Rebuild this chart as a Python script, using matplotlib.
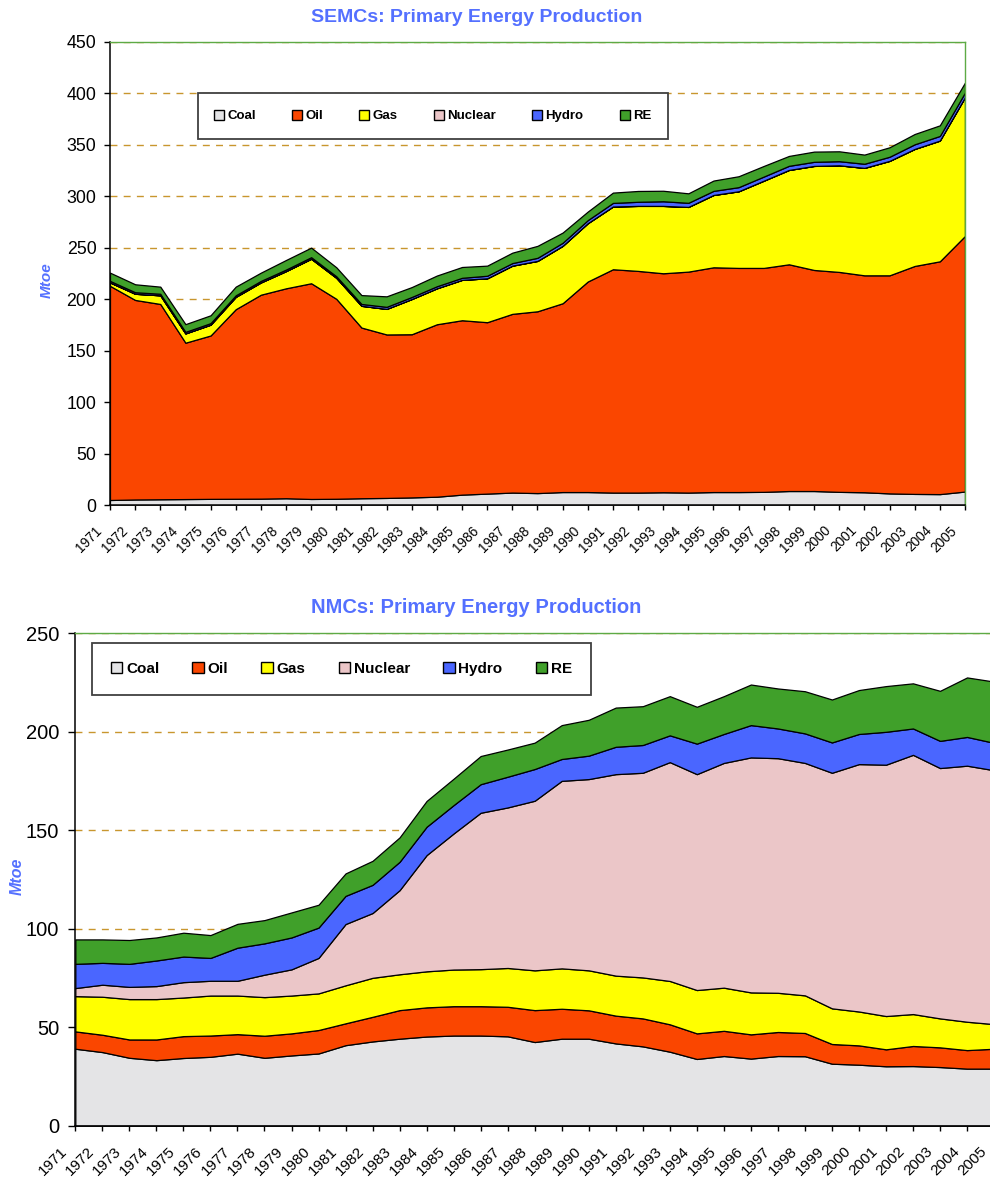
import matplotlib
matplotlib.use("Agg")
import matplotlib.pyplot as plt
import matplotlib.transforms as mtransforms
from matplotlib.patches import Patch
import numpy as np

plt.rcParams['font.family'] = ['Liberation Sans', 'DejaVu Sans']

years = list(range(1971, 2006))
layer_names = ['Coal', 'Oil', 'Gas', 'Nuclear', 'Hydro', 'RE']
layer_colors = ['#E4E4E6', '#FA4600', '#FFFF00', '#EBC6C8', '#4A66FF', '#40A02A']

# SEMCs (Mtoe)
semc_coal = [5.3, 5.8, 6.0, 6.2, 6.4, 6.5, 6.6, 7.0, 6.3, 6.5, 7.0, 7.3, 7.8, 8.5, 10.5, 11.5, 12.5, 12.0,
             13.0, 13.0, 12.5, 12.5, 12.8, 12.5, 13.0, 13.0, 13.2, 14.0, 14.0, 13.2, 12.8, 11.7, 11.2, 11.0, 13.5]
semc_oil = [207.9, 193.7, 189.6, 151.8, 158.6, 184.0, 198.0, 203.8, 209.4, 194.1, 165.7, 158.7, 158.4, 167.4,
            169.3, 166.4, 173.5, 176.5, 183.3, 204.4, 216.8, 215.2, 212.6, 214.5, 218.2, 217.6, 217.4, 220.1,
            214.6, 213.5, 210.6, 211.7, 221.3, 226.0, 248.1]
semc_gas = [3.3, 6.0, 8.4, 9.0, 10.5, 12.0, 11.9, 16.7, 23.8, 20.4, 21.1, 24.8, 34.2, 34.9, 39.2, 42.6, 46.8,
            48.9, 55.7, 56.6, 60.9, 63.1, 65.4, 62.8, 70.2, 74.4, 84.7, 91.6, 101.0, 103.5, 104.3, 111.1, 113.6,
            117.2, 134.7]
semc_nuclear = [0.0] * 35
semc_hydro = [1.5, 1.5, 1.5, 1.5, 1.5, 1.5, 1.5, 1.5, 1.5, 1.5, 1.8, 2.0, 2.0, 2.0, 2.0, 2.5, 2.5, 3.0, 3.0,
              3.0, 3.5, 4.0, 4.5, 4.0, 4.0, 4.0, 4.0, 4.0, 4.0, 4.0, 4.0, 4.0, 4.5, 4.5, 4.5]
semc_re = [8.0, 7.7, 6.9, 7.5, 7.6, 8.4, 8.0, 9.3, 9.3, 8.7, 8.6, 10.2, 9.6, 10.4, 10.5, 9.8, 10.1, 11.6, 9.9,
           8.3, 10.0, 10.5, 10.2, 9.2, 10.0, 10.6, 10.3, 9.6, 9.9, 9.6, 8.9, 9.2, 10.0, 10.3, 9.7]

# NMCs (Mtoe)
nmc_coal = [39.1, 37.4, 34.5, 33.3, 34.4, 35.0, 36.6, 34.5, 35.7, 36.7, 40.9, 42.8, 44.2, 45.3, 45.8, 45.8,
            45.4, 42.5, 44.2, 44.2, 41.8, 40.3, 37.6, 33.9, 35.4, 34.1, 35.4, 35.3, 31.5, 31.0, 30.2, 30.3,
            29.8, 29.0, 29.0]
nmc_oil = [8.8, 8.8, 9.3, 10.5, 11.1, 10.8, 9.9, 11.2, 11.2, 11.9, 11.1, 12.5, 14.5, 14.8, 14.9, 14.9, 15.0,
           16.2, 15.2, 14.4, 14.1, 14.2, 13.9, 13.0, 12.8, 12.3, 12.2, 11.8, 10.0, 9.8, 8.6, 10.2, 10.0, 9.4, 10.1]
nmc_gas = [17.9, 19.3, 20.5, 20.5, 19.6, 20.3, 19.6, 19.6, 19.2, 18.6, 19.3, 19.8, 18.2, 18.3, 18.6, 18.8,
           19.7, 20.2, 20.5, 20.3, 20.3, 20.8, 22.0, 22.0, 21.9, 21.3, 19.9, 19.1, 18.1, 17.2, 16.9, 16.2,
           14.7, 14.4, 12.5]
nmc_nuclear = [4.1, 6.1, 6.2, 6.6, 7.8, 7.5, 7.5, 11.4, 13.3, 18.0, 31.1, 32.9, 42.7, 59.0, 69.1, 79.4, 81.5,
               86.1, 95.2, 97.1, 102.3, 103.9, 111.1, 109.6, 114.1, 119.3, 119.1, 118.0, 119.6, 125.6, 127.6,
               131.6, 127.1, 130.0, 128.9]
nmc_hydro = [12.3, 11.1, 11.7, 13.0, 13.0, 11.6, 16.8, 15.9, 16.2, 15.4, 14.3, 14.3, 14.4, 14.4, 14.4, 14.5,
             15.6, 16.1, 11.1, 11.9, 13.9, 14.1, 13.6, 15.5, 14.7, 16.4, 15.1, 15.0, 15.4, 15.3, 16.7, 13.4,
             13.8, 14.6, 13.9]
nmc_re = [12.4, 11.9, 12.1, 11.7, 12.1, 11.6, 12.1, 11.8, 12.7, 11.6, 11.4, 12.2, 12.4, 13.1, 13.4, 14.3, 13.8,
          13.4, 17.2, 18.2, 19.9, 19.7, 19.9, 18.7, 19.2, 20.6, 20.3, 21.4, 21.8, 22.3, 23.2, 22.9, 25.4, 30.2,
          31.1]

TITLE_BLUE = '#5470FF'
GRID_COL = '#C8962E'
FRAME_GREEN = '#5DAA45'


def draw_panel(fig, ax, series, ymax, ytick_fs, ytick_len, ytick_pad, xtick_fs, xdrop_px, xshift_px,
               legend_fs, legend_box):
    ax.stackplot(years, *series, colors=layer_colors, edgecolor='black', linewidth=0.9, zorder=2)
    ax.set_xlim(years[0], years[-1])
    ax.set_ylim(0, ymax)
    ax.set_yticks(np.arange(0, ymax + 1, 50))
    ax.set_xticks(years)
    ax.set_xticklabels([])
    shift = mtransforms.ScaledTranslation(xshift_px / fig.dpi, -xdrop_px / fig.dpi, fig.dpi_scale_trans)
    trans = ax.get_xaxis_transform() + shift
    for y in years:
        ax.text(y, 0, str(y), transform=trans, rotation=45, ha='right', va='top',
                rotation_mode='anchor', fontsize=xtick_fs, clip_on=False)
    ax.tick_params(axis='y', labelsize=ytick_fs, direction='out', length=ytick_len, width=1, pad=ytick_pad)
    ax.tick_params(axis='x', direction='out', length=3.5, width=1)
    ax.set_axisbelow(True)
    ax.yaxis.grid(True, color=GRID_COL, linestyle=(0, (5, 4.5)), linewidth=1.0)
    ax.xaxis.grid(False)
    for s in ('left', 'bottom'):
        ax.spines[s].set_color('black')
        ax.spines[s].set_linewidth(1.1)
    for s in ('top', 'right'):
        ax.spines[s].set_color(FRAME_GREEN)
        ax.spines[s].set_linewidth(1.0)
    handles = [Patch(facecolor=c, edgecolor='black', linewidth=1.0) for c in layer_colors]
    leg = ax.legend(handles, layer_names, ncol=6, loc='upper left', bbox_to_anchor=legend_box,
                    mode='expand', frameon=True, fancybox=False, borderpad=1.25,
                    handlelength=0.75, handleheight=0.75, handletextpad=0.25,
                    prop={'weight': 'bold', 'size': legend_fs}, borderaxespad=0)
    leg.get_frame().set_edgecolor('#404040')
    leg.get_frame().set_linewidth(1.3)
    leg.get_frame().set_alpha(1.0)
    leg.set_zorder(5)


fig = plt.figure(figsize=(9.9, 11.84), dpi=100)

ax1 = fig.add_axes([0.1111, 0.5731, 0.8636, 0.3915])
draw_panel(fig, ax1, [semc_coal, semc_oil, semc_gas, semc_nuclear, semc_hydro, semc_re], 450,
           12.8, 4.3, 5.5, 9.8, 18, -15, 9.5, (0.1026, 0.889, 0.5497, 0.0))
fig.text(0.482, 0.9856, 'SEMCs: Primary Energy Production', ha='center', va='center',
         fontsize=14, fontweight='bold', color=TITLE_BLUE)
fig.text(0.0475, 0.7635, 'Mtoe', rotation=90, ha='center', va='center', fontsize=11,
         fontweight='bold', fontstyle='italic', color=TITLE_BLUE)

ax2 = fig.add_axes([0.0761, 0.0492, 0.9280, 0.4159])
draw_panel(fig, ax2, [nmc_coal, nmc_oil, nmc_gas, nmc_nuclear, nmc_hydro, nmc_re], 250,
           14.5, 5, 6.5, 11, 18.5, -15, 11, (0.0179, 0.981, 0.5434, 0.0))
fig.text(0.481, 0.4873, 'NMCs: Primary Energy Production', ha='center', va='center',
         fontsize=14.5, fontweight='bold', color=TITLE_BLUE)
fig.text(0.017, 0.260, 'Mtoe', rotation=90, ha='center', va='center', fontsize=11.5,
         fontweight='bold', fontstyle='italic', color=TITLE_BLUE)

fig.savefig('out.png', dpi=100)
